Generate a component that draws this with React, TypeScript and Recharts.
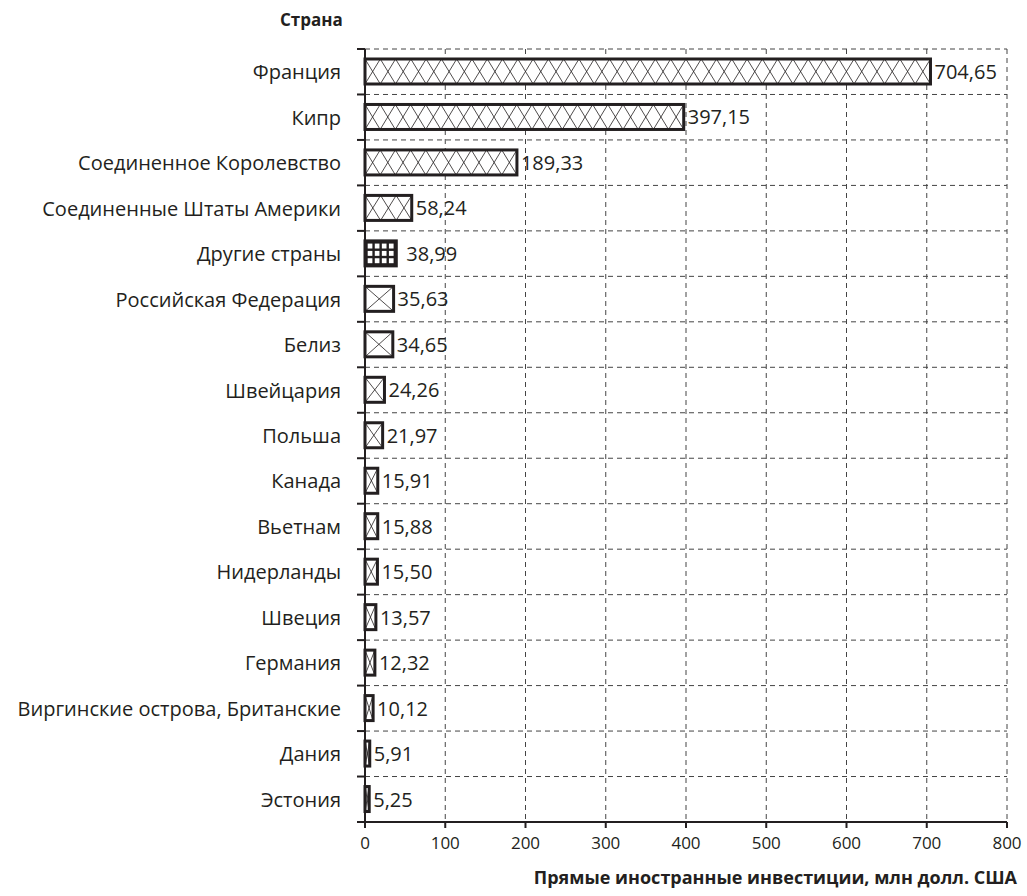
import {
  Bar,
  BarChart,
  CartesianGrid,
  LabelList,
  XAxis,
  YAxis,
} from "recharts";

const countries = [
  "Франция",
  "Кипр",
  "Соединенное Королевство",
  "Соединенные Штаты Америки",
  "Другие страны",
  "Российская Федерация",
  "Белиз",
  "Швейцария",
  "Польша",
  "Канада",
  "Вьетнам",
  "Нидерланды",
  "Швеция",
  "Германия",
  "Виргинские острова, Британские",
  "Дания",
  "Эстония",
];

const investments = [
  704.65, 397.15, 189.33, 58.24, 38.99, 35.63, 34.65, 24.26, 21.97, 15.91,
  15.88, 15.5, 13.57, 12.32, 10.12, 5.91, 5.25,
];

const xTicks = [0, 100, 200, 300, 400, 500, 600, 700, 800];
const boundaryTicks = Array.from({ length: countries.length + 1 }, (_, i) => i);

const data = countries.map((country, i) => ({ country, amount: investments[i] }));

const INK = "#231f20";
const FONT = "'Open Sans', sans-serif";
const OTHER = "Другие страны";

function HatchBar(props: any) {
  const { x, y, width, height, payload } = props;
  if (!width || width <= 0) return null;
  const lines = [];
  if (payload.country === OTHER) {
    const cols = 4;
    const rows = 3;
    const cw = (width - 3) / cols;
    const rh = (height - 3) / rows;
    for (let c = 0; c < cols; c++) {
      for (let r = 0; r < rows; r++) {
        lines.push(
          <rect
            key={`${c}-${r}`}
            x={x + 1.5 + c * cw + 1.2}
            y={y + 1.5 + r * rh + 1.2}
            width={Math.max(cw - 2.4, 0.5)}
            height={Math.max(rh - 2.4, 0.5)}
            fill="#fff"
          />
        );
      }
    }
    return (
      <g>
        <rect x={x} y={y} width={width} height={height} fill={INK} />
        {lines}
        <rect x={x} y={y} width={width} height={height} fill="none" stroke={INK} strokeWidth={3} />
      </g>
    );
  }
  const n = Math.max(1, Math.floor(width / 15));
  const cw = width / n;
  for (let i = 0; i < n; i++) {
    const x0 = x + i * cw;
    lines.push(
      <line key={`a${i}`} x1={x0} y1={y} x2={x0 + cw} y2={y + height} stroke={INK} strokeWidth={0.8} />,
      <line key={`b${i}`} x1={x0} y1={y + height} x2={x0 + cw} y2={y} stroke={INK} strokeWidth={0.8} />
    );
  }
  return (
    <g>
      <rect x={x} y={y} width={width} height={height} fill="#fff" />
      {lines}
      <rect x={x} y={y} width={width} height={height} fill="none" stroke={INK} strokeWidth={3} />
    </g>
  );
}

const fmt = (v: any) => Number(v).toFixed(2).replace(".", ",");

function ValueLabel(props: any) {
  const { x, y, width, height, value, index } = props;
  const gap = countries[index] === OTHER ? 10 : 4;
  return (
    <text
      x={x + width + gap}
      y={y + height / 2}
      dominantBaseline="central"
      fontSize={20}
      fill={INK}
      fontFamily={FONT}
    >
      {fmt(value)}
    </text>
  );
}

function CountryTick(props: any) {
  const { x, y, payload, index } = props;
  const half = payload?.offset ?? 0;
  const last = index === countries.length - 1;
  return (
    <g>
      <line x1={x - 8} y1={y - half} x2={x} y2={y - half} stroke={INK} strokeWidth={2} />
      {last && <line x1={x - 8} y1={y + half} x2={x} y2={y + half} stroke={INK} strokeWidth={2} />}
      <text
        x={x - 24}
        y={y}
        textAnchor="end"
        dominantBaseline="central"
        fontSize={20}
        fill={INK}
        fontFamily={FONT}
      >
        {payload.value}
      </text>
    </g>
  );
}

const gridRows = ({ offset }: any) =>
  boundaryTicks.map((i) => offset.top + (i * offset.height) / countries.length);

export default function App() {
  return (
    <div style={{ position: "absolute", left: 0, top: 0, width: 1027, height: 896, fontFamily: FONT, background: "#fff" }}>
      <BarChart
        width={1027}
        height={896}
        data={data}
        layout="vertical"
        margin={{ top: 49, right: 20, left: 0, bottom: 0 }}
        barCategoryGap={0}
      >
        <CartesianGrid
          stroke="#444"
          strokeDasharray="5 4"
          strokeWidth={1}
          horizontalCoordinatesGenerator={gridRows}
        />
        <XAxis
          type="number"
          domain={[0, 800]}
          ticks={xTicks}
          height={74}
          tick={{ fontSize: 17, fill: INK, fontFamily: FONT }}
          tickLine={{ stroke: INK, strokeWidth: 2 }}
          axisLine={{ stroke: INK, strokeWidth: 2 }}
          tickSize={6}
          tickMargin={9}
        />
        <YAxis
          type="category"
          dataKey="country"
          width={365}
          interval={0}
          tickLine={false}
          tickSize={0}
          tickMargin={0}
          axisLine={{ stroke: INK, strokeWidth: 2 }}
          tick={<CountryTick />}
        />
        <Bar dataKey="amount" barSize={25} shape={<HatchBar />} isAnimationActive={false}>
          <LabelList dataKey="amount" content={<ValueLabel />} />
        </Bar>
      </BarChart>
      <div
        style={{
          position: "absolute",
          left: 280,
          top: 8,
          fontSize: 17,
          fontWeight: 700,
          color: INK,
        }}
      >
        Страна
      </div>
      <div
        style={{
          position: "absolute",
          right: 10,
          top: 865,
          fontSize: 18,
          fontWeight: 700,
          color: INK,
        }}
      >
        Прямые иностранные инвестиции, млн долл. США
      </div>
    </div>
  );
}
